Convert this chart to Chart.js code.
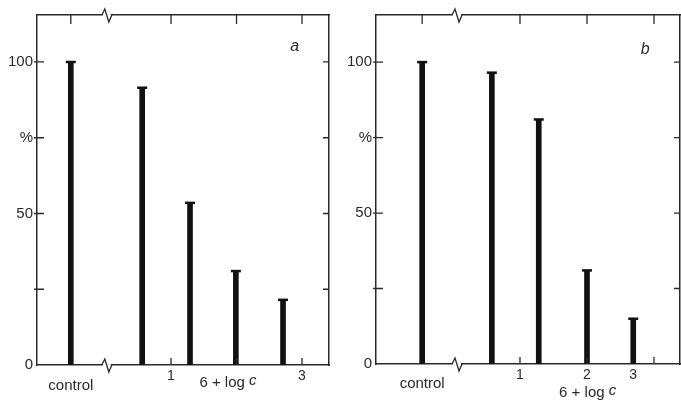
<!DOCTYPE html>
<html>
<head>
<meta charset="utf-8">
<script src="https://cdn.jsdelivr.net/npm/chart.js@4"></script>
<style>
  body { margin: 0; background: #fff; }
  #wrap { position: relative; width: 681px; height: 401px; overflow: hidden; }
  canvas { position: absolute; top: 0; }
</style>
</head>
<body>
<div id="wrap">
  <canvas id="chartA" width="340" height="401" style="left:0"></canvas>
  <canvas id="chartB" width="348" height="401" style="left:340px"></canvas>
</div>
<script>
// panel a
const xPositionsA = [-0.53, 0.56, 1.29, 1.99, 2.71];   // 6 + log c (control placed left of the break)
const valuesA = [100, 91.5, 53.5, 31, 21.5];          // %
// panel b
const xPositionsB = [-0.46, 0.58, 1.28, 2.0, 2.69];
const valuesB = [100, 96.5, 81, 31, 15];

const yTickValues = [0, 25, 50, 75, 100];
const yTickLabels = ['0', '', '50', '%', '100'];
const xTickValues = [1, 2, 3];
const xLabelValuesA = [1, 3];
const xLabelTextsA = ['1', '3'];
const xLabelValuesB = [1, 2, 2.69];
const xLabelTextsB = ['1', '2', '3'];

const ink = '#2a2a2a';
const font = '"Liberation Sans", Arial, sans-serif';

// inward ticks, axis break, labels and panel letter
const decor = {
  id: 'decor',
  afterDraw(chart, args, o) {
    const ctx = chart.ctx;
    const {left, right, top, bottom} = chart.chartArea;
    const x = chart.scales.x, y = chart.scales.y;
    ctx.save();
    ctx.strokeStyle = ink;
    ctx.lineWidth = 1.3;
    ctx.beginPath();
    yTickValues.slice(1).forEach(v => {
      const py = y.getPixelForValue(v);
      ctx.moveTo(left - 3, py); ctx.lineTo(left + 7, py);
      ctx.moveTo(right, py); ctx.lineTo(right - 6, py);
    });
    o.topTicks.forEach(v => {
      const px = x.getPixelForValue(v);
      ctx.moveTo(px, top); ctx.lineTo(px, top + 9);
    });
    xTickValues.forEach(v => {
      const px = x.getPixelForValue(v);
      ctx.moveTo(px, bottom); ctx.lineTo(px, bottom - 7);
    });
    ctx.stroke();

    // axis break on top and bottom frame lines
    const bx = x.getPixelForValue(o.breakX);
    [top, bottom].forEach(ly => {
      ctx.fillStyle = '#fff';
      ctx.fillRect(bx - 4, ly - 2, 8, 4);
      ctx.beginPath();
      ctx.moveTo(bx - 5, ly);
      ctx.lineTo(bx - 2, ly - 6);
      ctx.lineTo(bx + 2, ly + 7);
      ctx.lineTo(bx + 5, ly);
      ctx.stroke();
    });

    ctx.fillStyle = ink;
    ctx.textBaseline = 'middle';
    ctx.textAlign = 'center';
    ctx.font = '15px ' + font;
    ctx.fillText('control', x.getPixelForValue(o.controlX), bottom + o.controlDy);

    const tx = x.getPixelForValue(o.titleX), ty = bottom + o.titleDy;
    const main = '6 + log ';
    const w1 = ctx.measureText(main).width;
    ctx.font = 'italic 15px ' + font;
    const w2 = ctx.measureText('c').width;
    ctx.textAlign = 'left';
    ctx.font = '15px ' + font;
    ctx.fillText(main, tx - (w1 + w2) / 2, ty);
    ctx.font = 'italic 15px ' + font;
    ctx.fillText('c', tx - (w1 + w2) / 2 + w1, ty - 2);

    ctx.textAlign = 'center';
    ctx.font = 'italic 16px ' + font;
    ctx.fillText(o.letter, x.getPixelForValue(o.letterX), y.getPixelForValue(o.letterY));
    ctx.restore();
  }
};

function makePanel(id, xs, ys, p) {
  const pts = xs.map((v, i) => ({x: v, y: ys[i]}));
  return new Chart(document.getElementById(id), {
    type: 'bar',
    data: {
      datasets: [
        {data: pts, backgroundColor: '#111', barThickness: 5, order: 2},
        {type: 'scatter', data: pts, pointStyle: 'line', radius: 5,
         borderColor: '#111', borderWidth: 2.5, order: 1}
      ]
    },
    options: {
      responsive: false,
      animation: false,
      layout: {padding: 0},
      plugins: {legend: {display: false}, tooltip: {enabled: false}, decor: p},
      scales: {
        x: {
          type: 'linear', position: 'bottom', min: p.xMin, max: p.xMax, offset: false,
          grid: {display: false, drawTicks: false, offset: false},
          border: {display: true, color: ink, width: 1.5},
          afterBuildTicks: s => { s.ticks = p.labelValues.map(v => ({value: v})); },
          ticks: {
            padding: 3, color: ink, font: {family: font, size: 14},
            maxRotation: 0, autoSkip: false,
            callback: (v, i) => p.labelTexts[i]
          },
          afterFit: s => { s.height = 401 - p.bottom; s.paddingLeft = 0; s.paddingRight = 0; }
        },
        xTop: {
          type: 'linear', position: 'top', min: p.xMin, max: p.xMax, offset: false,
          grid: {display: false, drawTicks: false, offset: false},
          border: {display: true, color: ink, width: 1.5},
          ticks: {display: false},
          afterFit: s => { s.height = p.top; s.paddingLeft = 0; s.paddingRight = 0; }
        },
        y: {
          min: 0, max: p.yMax, position: 'left',
          grid: {display: false, drawTicks: false},
          border: {display: true, color: ink, width: 1.5},
          afterBuildTicks: s => { s.ticks = yTickValues.map(v => ({value: v})); },
          ticks: {
            padding: 4, color: ink, font: {family: font, size: 15},
            callback: (v, i) => yTickLabels[i]
          },
          afterFit: s => { s.width = p.left; s.paddingTop = 0; s.paddingBottom = 0; }
        },
        yRight: {
          min: 0, max: p.yMax, position: 'right',
          grid: {display: false, drawTicks: false},
          border: {display: true, color: ink, width: 1.5},
          ticks: {display: false},
          afterFit: s => { s.width = p.rightW; }
        }
      }
    },
    plugins: [decor]
  });
}

makePanel('chartA', xPositionsA, valuesA, {
  xMin: -1.046, xMax: 3.412, yMax: 115.5,
  left: 37, rightW: 11, top: 15, bottom: 365,
  labelValues: xLabelValuesA, labelTexts: xLabelTextsA,
  topTicks: [xPositionsA[0], 1, 2, 3], breakX: 0.02,
  controlX: xPositionsA[0], controlDy: 21, titleX: 1.87, titleDy: 18,
  letter: 'a', letterX: 2.89, letterY: 105
});

makePanel('chartB', xPositionsB, valuesB, {
  xMin: -1.149, xMax: 3.388, yMax: 115.6,
  left: 36, rightW: 8, top: 15, bottom: 364,
  labelValues: xLabelValuesB, labelTexts: xLabelTextsB,
  topTicks: [xPositionsB[0], 1, 2, 3], breakX: 0.06,
  controlX: xPositionsB[0], controlDy: 20, titleX: 2.01, titleDy: 29,
  letter: 'b', letterX: 2.87, letterY: 104
});
</script>
</body>
</html>
